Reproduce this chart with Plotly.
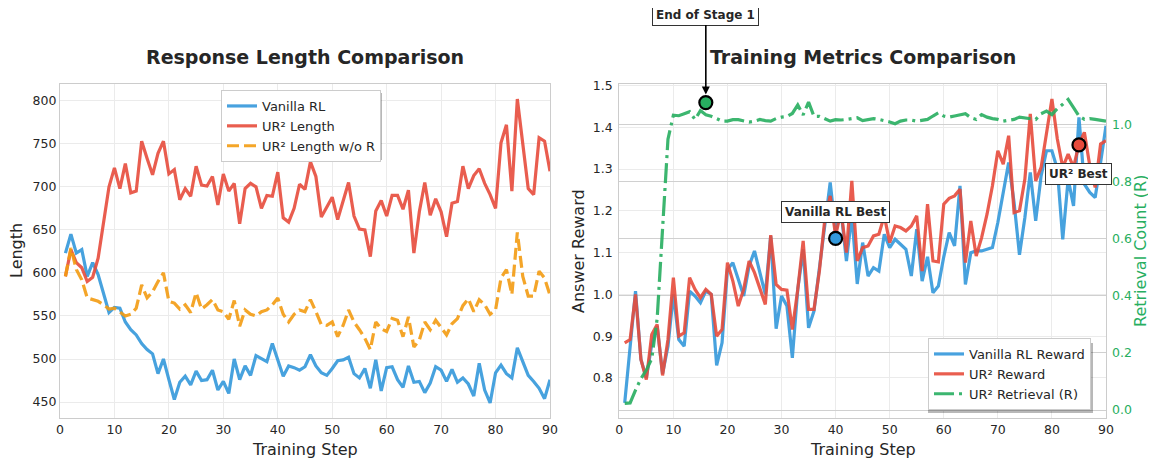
import plotly.graph_objects as go

steps = list(range(1, 91))

vanilla_len = [623, 645, 623, 627, 596, 612, 598, 576, 554, 560,
               559, 543, 534, 528, 518, 511, 506, 483, 500, 476,
               453, 473, 480, 470, 486, 475, 476, 487, 464, 474,
               460, 500, 476, 492, 481, 504, 501, 497, 518, 499,
               480, 492, 490, 487, 491, 505, 492, 484, 481, 489,
               498, 499, 502, 483, 478, 489, 466, 499, 463, 490,
               491, 476, 467, 492, 473, 474, 461, 472, 491, 487,
               474, 488, 473, 478, 471, 457, 495, 464, 449, 484,
               493, 483, 478, 513, 497, 481, 474, 466, 454, 476]

ur2_len = [596, 627, 612, 606, 590, 595, 617, 660, 700, 722,
           698, 727, 693, 695, 753, 733, 714, 739, 753, 715,
           720, 685, 698, 689, 724, 702, 701, 712, 679, 715,
           695, 704, 657, 698, 704, 700, 675, 690, 689, 717,
           664, 659, 675, 703, 697, 729, 712, 665, 677, 688,
           662, 683, 705, 666, 651, 650, 619, 672, 684, 666,
           690, 690, 674, 696, 623, 671, 705, 667, 686, 671,
           642, 681, 683, 724, 698, 713, 721, 704, 691, 675,
           751, 772, 695, 802, 751, 698, 691, 757, 753, 718]

ur2_len_wo_r = [596, 629, 604, 592, 571, 569, 567, 563, 558, 559,
                554, 550, 552, 559, 586, 571, 578, 590, 600, 567,
                565, 558, 563, 554, 577, 558, 563, 569, 557, 555,
                546, 568, 538, 557, 552, 550, 555, 557, 563, 571,
                552, 543, 552, 557, 555, 569, 555, 540, 539, 543,
                526, 539, 557, 543, 534, 524, 511, 543, 535, 532,
                547, 545, 526, 549, 514, 522, 543, 534, 545, 537,
                528, 541, 547, 562, 570, 555, 569, 563, 552, 557,
                594, 604, 575, 647, 596, 573, 573, 602, 594, 574]

vanilla_reward = [0.740, 0.872, 1.008, 0.844, 0.800, 0.880, 0.924, 0.810, 0.876, 1.000,
                  0.892, 0.876, 1.008, 0.996, 0.980, 1.008, 1.000, 0.830, 0.884, 1.060,
                  1.076, 1.036, 0.996, 1.068, 1.104, 1.052, 1.000, 1.140, 0.918, 0.996,
                  0.972, 0.848, 1.012, 1.108, 0.920, 0.960, 1.060, 1.160, 1.268, 1.150,
                  1.200, 1.080, 1.190, 1.025, 1.124, 1.044, 1.064, 1.056, 1.144, 1.112,
                  1.132, 1.120, 1.108, 1.044, 1.156, 1.032, 1.090, 1.004, 1.020, 1.090,
                  1.148, 1.116, 1.260, 1.024, 1.100, 1.104, 1.104, 1.108, 1.112, 1.172,
                  1.244, 1.316, 1.220, 1.095, 1.184, 1.292, 1.176, 1.284, 1.344, 1.344,
                  1.300, 1.132, 1.276, 1.212, 1.424, 1.264, 1.244, 1.232, 1.316, 1.404]

ur2_reward = [0.884, 0.892, 1.000, 0.844, 0.796, 0.904, 0.928, 0.806, 0.892, 1.040,
              0.900, 0.908, 1.040, 1.012, 0.992, 1.012, 1.000, 0.900, 0.916, 1.076,
              1.032, 0.972, 1.012, 1.080, 1.052, 1.012, 0.976, 1.142, 1.024, 1.012,
              1.010, 0.916, 1.012, 1.128, 0.964, 0.964, 1.056, 1.180, 1.236, 1.140,
              1.200, 1.100, 1.272, 1.080, 1.112, 1.116, 1.140, 1.144, 1.188, 1.124,
              1.164, 1.160, 1.152, 1.164, 1.188, 1.056, 1.216, 1.080, 1.078, 1.216,
              1.230, 1.236, 1.252, 1.076, 1.176, 1.092, 1.136, 1.192, 1.260, 1.344,
              1.312, 1.380, 1.196, 1.200, 1.276, 1.432, 1.272, 1.304, 1.384, 1.468,
              1.372, 1.304, 1.336, 1.304, 1.360, 1.388, 1.308, 1.256, 1.360, 1.368]

ur2_retrieval = [0.023, 0.025, 0.070, 0.110, 0.140, 0.180, 0.320, 0.630, 0.950, 1.034,
                 1.032, 1.039, 1.046, 1.019, 1.050, 1.035, 1.030, 1.022, 1.013, 1.013,
                 1.018, 1.018, 1.013, 1.010, 1.013, 1.019, 1.015, 1.013, 1.022, 1.027,
                 1.029, 1.040, 1.070, 1.035, 1.080, 1.030, 1.030, 1.022, 1.013, 1.018,
                 1.017, 1.019, 1.022, 1.025, 1.015, 1.019, 1.022, 1.019, 1.015, 1.010,
                 1.004, 1.013, 1.017, 1.017, 1.013, 1.015, 1.019, 1.031, 1.042, 1.031,
                 1.027, 1.031, 1.034, 1.039, 1.025, 1.019, 1.036, 1.027, 1.022, 1.019,
                 1.013, 1.017, 1.019, 1.027, 1.025, 1.022, 1.019, 1.039, 1.048, 1.036,
                 1.057, 1.072, 1.089, 1.060, 1.031, 1.019, 1.022, 1.019, 1.015, 1.013]

# highlighted points
stage1_step, stage1_val = 16, 1.078
vanilla_best_step, vanilla_best_val = 40, 1.134
ur2_best_step, ur2_best_val = 85, 1.358

BLUE = "#3498db"
RED = "#e74c3c"
ORANGE = "#f39c12"
GREEN = "#27ae60"
TXT = "#262626"
FONT = "DejaVu Sans"

fig = go.Figure()

# Left subplot
fig.add_trace(go.Scatter(x=steps, y=vanilla_len, name="Vanilla RL", mode="lines",
                         line=dict(color=BLUE, width=3.2), opacity=0.9,
                         xaxis="x", yaxis="y", legend="legend"))
fig.add_trace(go.Scatter(x=steps, y=ur2_len, name="UR² Length", mode="lines",
                         line=dict(color=RED, width=3.2), opacity=0.9,
                         xaxis="x", yaxis="y", legend="legend"))
fig.add_trace(go.Scatter(x=steps, y=ur2_len_wo_r, name="UR² Length w/o R", mode="lines",
                         line=dict(color=ORANGE, width=3.2, dash="12px,5px"), opacity=0.9,
                         xaxis="x", yaxis="y", legend="legend"))

# Right subplot
fig.add_trace(go.Scatter(x=steps, y=vanilla_reward, name="Vanilla RL Reward", mode="lines",
                         line=dict(color=BLUE, width=3.2), opacity=0.9,
                         xaxis="x2", yaxis="y2", legend="legend2"))
fig.add_trace(go.Scatter(x=steps, y=ur2_reward, name="UR² Reward", mode="lines",
                         line=dict(color=RED, width=3.2), opacity=0.9,
                         xaxis="x2", yaxis="y2", legend="legend2"))
fig.add_trace(go.Scatter(x=steps, y=ur2_retrieval, name="UR² Retrieval (R)", mode="lines",
                         line=dict(color=GREEN, width=3.2, dash="20px,5px,3px,5px"), opacity=0.9,
                         xaxis="x2", yaxis="y3", legend="legend2"))

# markers
fig.add_trace(go.Scatter(x=[vanilla_best_step], y=[vanilla_best_val], mode="markers",
                         marker=dict(color=BLUE, size=13, line=dict(color="black", width=2.2)),
                         xaxis="x2", yaxis="y2", showlegend=False))
fig.add_trace(go.Scatter(x=[ur2_best_step], y=[ur2_best_val], mode="markers",
                         marker=dict(color=RED, size=13, line=dict(color="black", width=2.2)),
                         xaxis="x2", yaxis="y2", showlegend=False))
fig.add_trace(go.Scatter(x=[stage1_step], y=[stage1_val], mode="markers",
                         marker=dict(color=GREEN, size=13, line=dict(color="black", width=2.2)),
                         xaxis="x2", yaxis="y3", showlegend=False))

# The page body has an 8px margin, so the figure is drawn 8px in from the window corner.
OFF = 8
W, H = 1156 - OFF, 463 - OFF
def px(x):
    return (x - OFF) / W
def py(y):
    return (H - (y - OFF)) / H

ydom = [py(418), py(83.5)]
axis_common = dict(showgrid=True, gridcolor="#ebebeb", gridwidth=1, zeroline=False,
                   showline=True, linecolor="#cccccc", linewidth=1.3, mirror=True,
                   ticks="", automargin=False,
                   tickfont=dict(family=FONT, size=12.5, color=TXT))

fig.update_layout(
    width=W, height=H,
    margin=dict(l=0, r=0, t=0, b=0, autoexpand=False),
    paper_bgcolor="white", plot_bgcolor="white",
    font=dict(family=FONT, color=TXT),
    xaxis=dict(domain=[px(60), px(550)], anchor="y", range=[0, 90], dtick=10, tick0=0, **axis_common),
    yaxis=dict(domain=ydom, anchor="x", range=[431.5, 820], dtick=50, tick0=0, **axis_common),
    xaxis2=dict(domain=[px(619.3), px(1106)], anchor="y2", range=[0, 90], dtick=10, tick0=0, **axis_common),
    yaxis2=dict(domain=ydom, anchor="x2", range=[0.704, 1.505], dtick=0.1, tick0=0, tickformat=".1f",
                ticklabelstandoff=3, **axis_common),
    yaxis3=dict(overlaying="y2", anchor="x2", side="right", range=[-0.028, 1.145], dtick=0.2, tick0=0,
                tickformat=".1f", showgrid=True, gridcolor="#d0d0d0", gridwidth=1, zeroline=False,
                showline=False, ticks="", automargin=False, ticklabelstandoff=5,
                tickfont=dict(family=FONT, size=12.5, color=GREEN)),
    legend=dict(x=px(221), y=py(90), xanchor="left", yanchor="top",
                bgcolor="white", bordercolor="#cccccc", borderwidth=1,
                font=dict(family=FONT, size=13, color=TXT), tracegroupgap=0),
    legend2=dict(x=px(928), y=py(410), xanchor="left", yanchor="bottom",
                 bgcolor="white", bordercolor="#cccccc", borderwidth=1,
                 font=dict(family=FONT, size=13, color=TXT), tracegroupgap=0),
)

def label(text, x, y, size, color=TXT, angle=0, bold=False):
    f = dict(family=FONT, size=size, color=color)
    if bold:
        f["weight"] = "bold"
    return dict(text=text, x=px(x), y=py(y), xref="paper", yref="paper",
                xanchor="center", yanchor="middle", textangle=angle,
                showarrow=False, font=f)

annotations = [
    label("Response Length Comparison", 305, 57, 19, bold=True),
    label("Training Metrics Comparison", 862.6, 57, 19, bold=True),
    label("Training Step", 305, 449, 16),
    label("Training Step", 862.6, 449, 16),
    label("Length", 16, 251, 16, angle=-90),
    label("Answer Reward", 578, 251, 16, angle=-90),
    label("Retrieval Count (R)", 1140, 251, 16, color=GREEN, angle=-90),
    dict(text="End of Stage 1", x=stage1_step, y=stage1_val, xref="x2", yref="y3",
         showarrow=True, ax=0, ay=-88, arrowhead=2, arrowsize=1, arrowwidth=1.6, arrowcolor="black",
         standoff=8, bgcolor="white", bordercolor="#333333", borderwidth=1, borderpad=3,
         font=dict(family=FONT, size=12, color=TXT, weight="bold")),
    dict(text="Vanilla RL Best", x=vanilla_best_step, y=vanilla_best_val, xref="x2", yref="y2",
         xanchor="center", yanchor="middle",
         showarrow=False, yshift=26, bgcolor="white", bordercolor="#333333", borderwidth=1, borderpad=3,
         font=dict(family=FONT, size=12, color=TXT, weight="bold")),
    dict(text="UR² Best", x=ur2_best_step, y=ur2_best_val, xref="x2", yref="y2",
         xanchor="center", yanchor="middle",
         showarrow=False, yshift=-29, bgcolor="white", bordercolor="#333333", borderwidth=1, borderpad=3,
         font=dict(family=FONT, size=12, color=TXT, weight="bold")),
]
fig.update_layout(annotations=annotations)

# legend shadows
shadow = "rgba(0,0,0,0.28)"
fig.update_layout(shapes=[
    dict(type="rect", xref="paper", yref="paper", x0=px(224), x1=px(382), y0=py(160), y1=py(93),
         fillcolor=shadow, line=dict(width=0), layer="above"),
    dict(type="rect", xref="paper", yref="paper", x0=px(928), x1=px(1093), y0=py(413), y1=py(343),
         fillcolor=shadow, line=dict(width=0), layer="above"),
])

fig.write_html("out.html")
